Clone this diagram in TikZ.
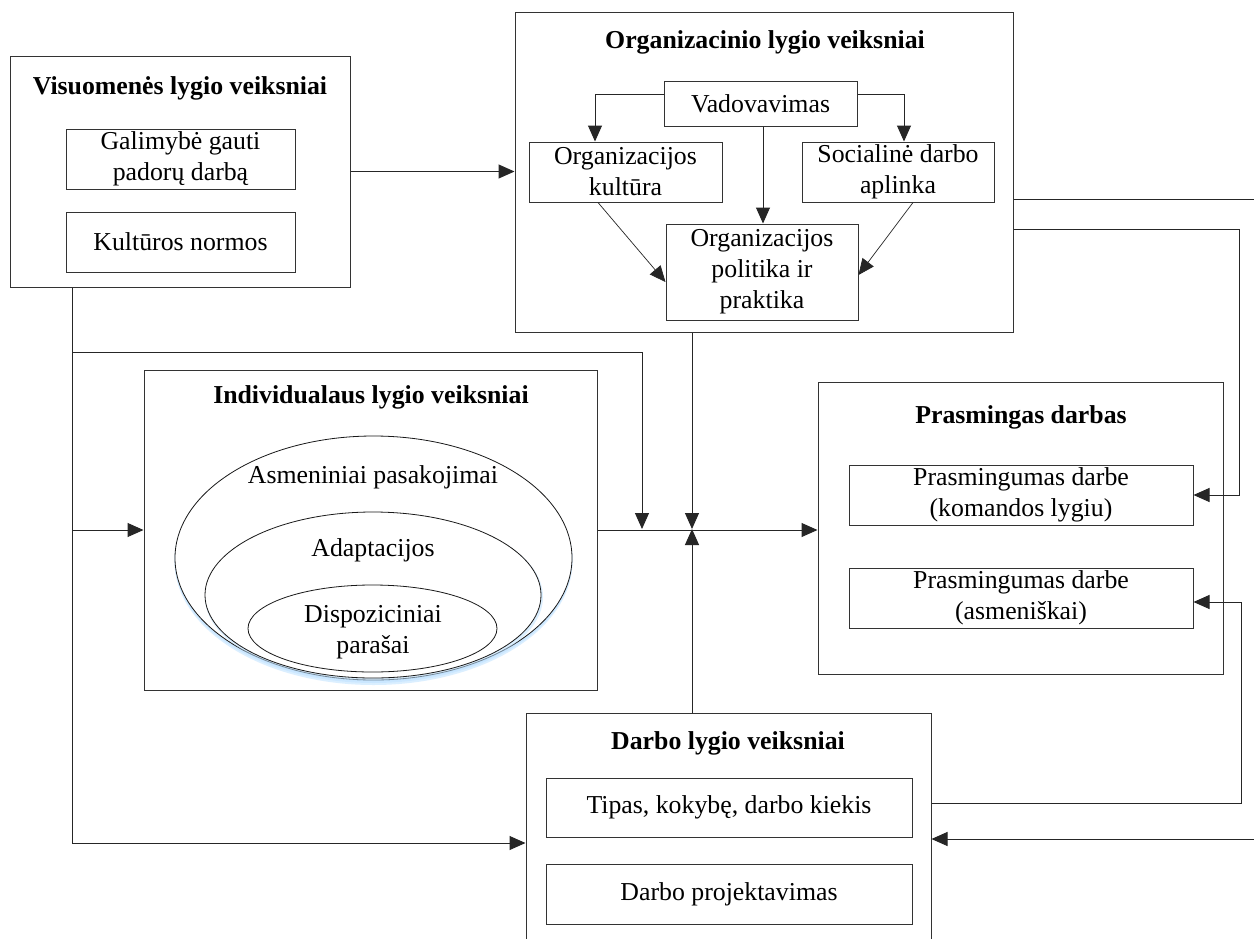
\documentclass[tikz,border=0pt]{standalone}
\usepackage{fontspec}
\setmainfont{Liberation Serif}
\usetikzlibrary{arrows.meta}
\begin{document}
\begin{tikzpicture}[x=1pt,y=-1pt,
  every node/.style={font=\fontsize{25.8pt}{31pt}\selectfont, align=center, inner sep=0pt},
  box/.style={draw=black!80, line width=1pt, rectangle, fill=white},
  ttl/.style={font=\fontsize{25.8pt}{31pt}\selectfont\bfseries},
  ln/.style={draw=black!85, line width=1pt},
  arr/.style={ln, -{Triangle[length=16pt,width=14pt]}},
  ell/.style={draw=black!90, line width=0.8pt, fill=white},
  glow/.style={draw=blue!45!cyan!25!white, opacity=0.55}
]
\clip (0,0) rectangle (1254,938);
\fill[white] (0,0) rectangle (1254,938);

% ---------- Visuomenes lygio ----------
\node[box, minimum width=340pt, minimum height=231pt] (visu) at (180,171.5) {};
\node[ttl] (vt) at (180,88) {Visuomenės lygio veiksniai};
\node[box, minimum width=229pt, minimum height=60pt] (galim) at (180.5,159) {Galimybė gauti\\padorų darbą};
\node[box, minimum width=229pt, minimum height=60pt] (kultn) at (180.5,242) {Kultūros normos};

% ---------- Organizacinio lygio ----------
\node[box, minimum width=498pt, minimum height=320pt] (org) at (764,172) {};
\node[ttl] (ot) at (765,42) {Organizacinio lygio veiksniai};
\node[box, minimum width=193pt, minimum height=45pt] (vad) at (760.5,103.5) {Vadovavimas};
\node[box, minimum width=193pt, minimum height=60pt] (okult) at (625.5,172) {Organizacijos\\kultūra};
\node[box, minimum width=192pt, minimum height=60pt] (soc) at (898,172) {Socialinė darbo\\aplinka};
\node[box, minimum width=192pt, minimum height=96pt] (pol) at (762,272) {Organizacijos\\politika ir\\praktika};

% ---------- Individualaus lygio ----------
\node[box, minimum width=453pt, minimum height=320pt] (ind) at (370.5,530) {};
\node[ttl] (it) at (371,397) {Individualaus lygio veiksniai};
\draw[glow, line width=6pt] (373.5,561) ellipse [x radius=196pt, y radius=121pt];
\draw[glow, line width=3pt] (373.5,559.5) ellipse [x radius=197.5pt, y radius=122pt];
\draw[ell] (373.5,558) ellipse [x radius=198.5pt, y radius=122pt];
\draw[glow, line width=4pt] (374,597) ellipse [x radius=167pt, y radius=82pt];
\draw[ell] (373,595) ellipse [x radius=168pt, y radius=83pt];
\draw[ell] (372.5,628.5) ellipse [x radius=124.5pt, y radius=43.5pt];
\node (a1) at (373,477) {Asmeniniai pasakojimai};
\node (a2) at (373,550) {Adaptacijos};
\node (a3) at (373,632) {Dispoziciniai\\parašai};

% ---------- Prasmingas darbas ----------
\node[box, minimum width=405pt, minimum height=292pt] (pras) at (1020.5,528) {};
\node[ttl] (pt) at (1021,417) {Prasmingas darbas};
\node[box, minimum width=344pt, minimum height=60pt] (p1) at (1021,495) {Prasmingumas darbe\\(komandos lygiu)};
\node[box, minimum width=344pt, minimum height=60pt] (p2) at (1021,598) {Prasmingumas darbe\\(asmeniškai)};

% ---------- Darbo lygio ----------
\node[box, minimum width=405pt, minimum height=247pt] (darbo) at (728.5,836.5) {};
\node[ttl] (dt) at (728,743) {Darbo lygio veiksniai};
\node[box, minimum width=366pt, minimum height=59pt] (d1) at (729,807.5) {Tipas, kokybę, darbo kiekis};
\node[box, minimum width=366pt, minimum height=60pt] (d2) at (729,894) {Darbo projektavimas};

% ---------- helper coordinates ----------
\coordinate (trunk) at ([xshift=-108pt]visu.south);
\coordinate (tl) at (72,352);
\coordinate (m1) at (642,529);
\coordinate (hub) at (692,529);
\coordinate (e1) at (1260,199);
\coordinate (e2) at (1260,839);

% ---------- connectors inside organisation ----------
\draw[arr] ([yshift=9.5pt]vad.west) -| ([xshift=-30.5pt]okult.north);
\draw[arr] ([yshift=9.5pt]vad.east) -| ([xshift=6pt]soc.north);
\draw[arr] ([xshift=2.5pt]vad.south) -- ([xshift=1pt]pol.north);
\draw[arr, line width=0.7pt] ([xshift=-27.5pt]okult.south) -- ([yshift=-10pt]pol.west);
\draw[arr, line width=0.7pt] ([xshift=15pt]soc.south) -- ([yshift=-3pt]pol.east);

% ---------- main connectors ----------
\draw[arr] (visu.east) -- (org.west |- visu.east);
\draw[arr] (trunk) |- ([yshift=-6.5pt]darbo.west);
\draw[arr] (trunk |- ind.west) -- (ind.west);
\draw[arr] (trunk |- tl) -| (m1);
\draw[arr] (ind.east) -- (pras.west |- ind.east);
\draw[arr] (org.south -| hub) -- (hub);
\draw[arr] (darbo.north -| hub) -- (hub);
\draw[ln] ([yshift=-27pt]org.east) -- (e1);
\draw[arr] ([yshift=-57pt]org.east) -- ++(226,0) |- (p1.east);
\draw[arr] ([yshift=33.5pt]darbo.east) -- ++(309.5,0) |- ([yshift=-4pt]p2.east);
\draw[arr] (e2) -- (e2 -| darbo.east);
\end{tikzpicture}
\end{document}
